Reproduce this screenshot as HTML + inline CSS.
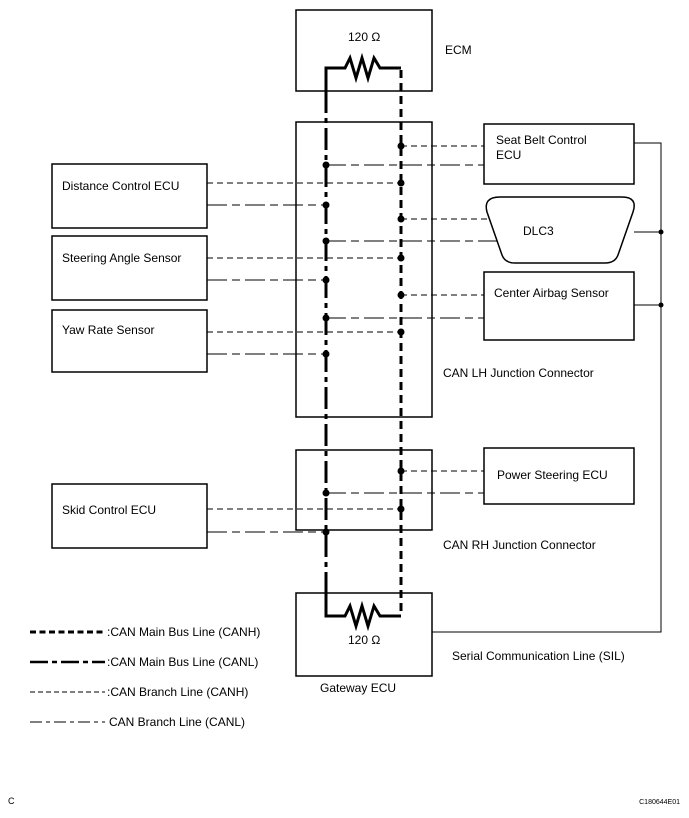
<!DOCTYPE html>
<html><head><meta charset="utf-8"><style>
body{margin:0;background:#fff}
svg text{font-family:"Liberation Sans",sans-serif;font-size:12px;fill:#000}
</style></head><body>
<svg width="689" height="813" viewBox="0 0 689 813" xmlns="http://www.w3.org/2000/svg">
<g fill="none" stroke="#000" stroke-width="1.5">
<rect x="296" y="10" width="136" height="81"/>
<rect x="296" y="122" width="136" height="295"/>
<rect x="296" y="450" width="136" height="80"/>
<rect x="296" y="593" width="136" height="83"/>
<rect x="52" y="164" width="155" height="64"/>
<rect x="52" y="236" width="155" height="64"/>
<rect x="52" y="310" width="155" height="62"/>
<rect x="52" y="484" width="155" height="64"/>
<rect x="484" y="124" width="150" height="60"/>
<rect x="484" y="272" width="150" height="68"/>
<rect x="484" y="448" width="150" height="56"/>
<path d="M500,197 L622,197 Q638,197 633,212 L618,255 Q615,263 605,263 L515,263 Q505,263 502,255 L487,212 Q483,197 500,197 Z"/>
<path d="M634,143 H661 V632 H432 M634,232 H661 M634,305 H661" stroke-width="1"/>
</g>
<!-- resistors -->
<g fill="none" stroke="#000" stroke-width="3">
<polyline points="326,91 326,68 345,68 350,58 356,78 362,58 368,78 374,58 380,68 401,68"/>
<polyline points="326,593 326,616 345,616 350,606 356,626 362,606 368,626 374,606 380,616 401,616"/>
</g>
<g fill="none" stroke="#000" stroke-width="3">
<line x1="326" y1="91" x2="326" y2="593" stroke-dasharray="22,5,5,5"/>
<line x1="401" y1="70" x2="401" y2="616" stroke-dasharray="8,5"/>
</g>
<!-- branch CANH -->
<g stroke="#000" stroke-width="1" stroke-dasharray="6,4">
<line x1="401" y1="146" x2="484" y2="146"/>
<line x1="207" y1="183" x2="401" y2="183"/>
<line x1="401" y1="219" x2="487" y2="219"/>
<line x1="207" y1="258" x2="401" y2="258"/>
<line x1="401" y1="295" x2="484" y2="295"/>
<line x1="207" y1="332" x2="401" y2="332"/>
<line x1="401" y1="471" x2="484" y2="471"/>
<line x1="207" y1="509" x2="401" y2="509"/>
</g>
<g stroke="#000" stroke-width="1" stroke-dasharray="20,5,8,5">
<line x1="326" y1="165" x2="484" y2="165"/>
<line x1="207" y1="205" x2="326" y2="205"/>
<line x1="326" y1="241" x2="497" y2="241"/>
<line x1="207" y1="280" x2="326" y2="280"/>
<line x1="326" y1="318" x2="484" y2="318"/>
<line x1="207" y1="354" x2="326" y2="354"/>
<line x1="326" y1="493" x2="484" y2="493"/>
<line x1="207" y1="532" x2="326" y2="532"/>
</g>
<g fill="#000">
<circle cx="401" cy="146" r="3.5"/><circle cx="401" cy="183" r="3.5"/><circle cx="401" cy="219" r="3.5"/><circle cx="401" cy="258" r="3.5"/><circle cx="401" cy="295" r="3.5"/><circle cx="401" cy="332" r="3.5"/><circle cx="401" cy="471" r="3.5"/><circle cx="401" cy="509" r="3.5"/>
<circle cx="326" cy="165" r="3.5"/><circle cx="326" cy="205" r="3.5"/><circle cx="326" cy="241" r="3.5"/><circle cx="326" cy="280" r="3.5"/><circle cx="326" cy="318" r="3.5"/><circle cx="326" cy="354" r="3.5"/><circle cx="326" cy="493" r="3.5"/><circle cx="326" cy="532" r="3.5"/>
<circle cx="661" cy="232" r="2.5"/><circle cx="661" cy="305" r="2.5"/>
</g>
<!-- legend -->
<g stroke="#000">
<line x1="30" y1="632" x2="105" y2="632" stroke-width="3" stroke-dasharray="6,3.5"/>
<line x1="30" y1="662" x2="105" y2="662" stroke-width="2.5" stroke-dasharray="18,4,5,4"/>
<line x1="30" y1="692" x2="105" y2="692" stroke-width="1" stroke-dasharray="5,3"/>
<line x1="30" y1="722" x2="105" y2="722" stroke-width="1" stroke-dasharray="12,4,4,4"/>
</g>
<text x="348" y="41">120 Ω</text>
<text x="445" y="54">ECM</text>
<text x="348" y="644">120 Ω</text>
<text x="320" y="692">Gateway ECU</text>
<text x="62" y="190">Distance Control ECU</text>
<text x="62" y="262">Steering Angle Sensor</text>
<text x="62" y="334">Yaw Rate Sensor</text>
<text x="62" y="514">Skid Control ECU</text>
<text x="496" y="144">Seat Belt Control</text>
<text x="496" y="159">ECU</text>
<text x="523" y="235">DLC3</text>
<text x="494" y="297">Center Airbag Sensor</text>
<text x="497" y="479">Power Steering ECU</text>
<text x="443" y="377">CAN LH Junction Connector</text>
<text x="443" y="549">CAN RH Junction Connector</text>
<text x="452" y="660">Serial Communication Line (SIL)</text>
<text x="107" y="636">:CAN Main Bus Line (CANH)</text>
<text x="107" y="666">:CAN Main Bus Line (CANL)</text>
<text x="107" y="696">:CAN Branch Line (CANH)</text>
<text x="109" y="726">CAN Branch Line (CANL)</text>
<text x="8" y="804" style="font-size:9px">C</text>
<text x="680" y="804" style="font-size:7px" text-anchor="end">C180644E01</text>
</svg>
</body></html>
